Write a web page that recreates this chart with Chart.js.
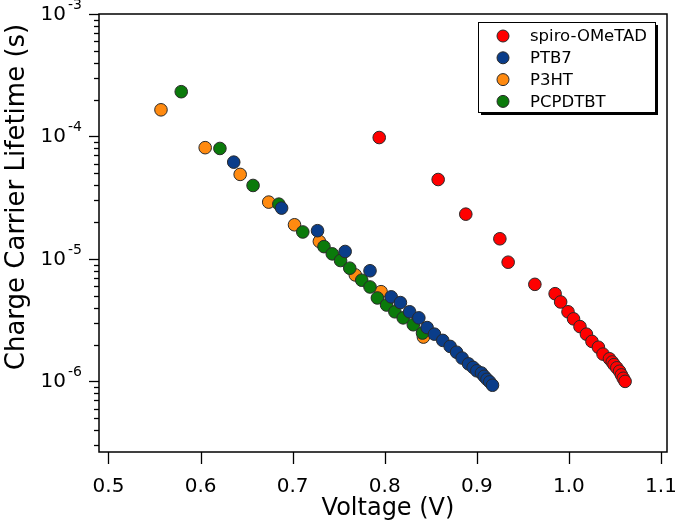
<!DOCTYPE html>
<html>
<head>
<meta charset="utf-8">
<script src="https://cdn.jsdelivr.net/npm/chart.js@4.4.0/dist/chart.umd.min.js"></script>
<style>
  body { margin: 0; background: #fff; }
  canvas { display: block; }
</style>
</head>
<body>
<canvas id="lifetimeChart" width="675" height="521"></canvas>
<script>
// values
const spiroVoltage = [0.794, 0.858, 0.888, 0.925, 0.934, 0.963, 0.985, 0.991, 0.999, 1.005, 1.012, 1.019,
  1.025, 1.032, 1.037, 1.044, 1.047, 1.049, 1.052, 1.055, 1.057, 1.059, 1.061];
const spiroLifetime = [9.8e-5, 4.45e-5, 2.32e-5, 1.46e-5, 9.4e-6, 6.2e-6, 5.2e-6, 4.45e-6, 3.7e-6, 3.24e-6, 2.8e-6, 2.43e-6,
  2.12e-6, 1.9e-6, 1.67e-6, 1.53e-6, 1.44e-6, 1.37e-6, 1.29e-6, 1.21e-6, 1.13e-6, 1.06e-6, 1.0e-6];

const ptb7Voltage = [0.636, 0.688, 0.727, 0.757, 0.784, 0.807, 0.817, 0.827, 0.837, 0.846, 0.854, 0.863,
  0.871, 0.878, 0.884, 0.891, 0.896, 0.900, 0.905, 0.908, 0.911, 0.914, 0.917];
const ptb7Lifetime = [6.17e-5, 2.6e-5, 1.7e-5, 1.15e-5, 8.0e-6, 4.9e-6, 4.4e-6, 3.7e-6, 3.3e-6, 2.75e-6, 2.43e-6, 2.16e-6,
  1.93e-6, 1.73e-6, 1.55e-6, 1.39e-6, 1.3e-6, 1.22e-6, 1.17e-6, 1.1e-6, 1.04e-6, 9.9e-7, 9.3e-7];

const p3htVoltage = [0.557, 0.605, 0.643, 0.674, 0.702, 0.729, 0.768, 0.796, 0.842];
const p3htLifetime = [1.65e-4, 8.1e-5, 4.9e-5, 2.91e-5, 1.9e-5, 1.39e-5, 7.4e-6, 5.4e-6, 2.3e-6];

const pcpdtbtVoltage = [0.579, 0.621, 0.657, 0.685, 0.711, 0.734, 0.743, 0.752, 0.762, 0.775, 0.784, 0.792,
  0.802, 0.811, 0.820, 0.831, 0.841];
const pcpdtbtLifetime = [2.32e-4, 7.98e-5, 3.98e-5, 2.8e-5, 1.66e-5, 1.26e-5, 1.1e-5, 9.7e-6, 8.4e-6, 6.7e-6, 5.9e-6, 4.8e-6,
  4.2e-6, 3.7e-6, 3.3e-6, 2.9e-6, 2.48e-6];

const xTicks = [0.5, 0.6, 0.7, 0.8, 0.9, 1.0, 1.1];
const yDecades = [-7, -6, -5, -4, -3];

const FONT = "'DejaVu Sans', Verdana, sans-serif";

function toPoints(xs, ys) {
  return xs.map((v, i) => ({ x: v, y: ys[i] }));
}

function series(label, xs, ys, color, order) {
  return {
    label,
    data: toPoints(xs, ys),
    order,
    pointRadius: 6.3,
    pointHoverRadius: 6.3,
    pointBackgroundColor: color,
    pointBorderColor: "#2a2a2a",
    pointBorderWidth: 1,
    backgroundColor: color,
    showLine: false
  };
}

// frame, tick marks, log labels, titles and boxed legend
const axisDecor = {
  id: "axisDecor",
  afterDraw(chart) {
    const ctx = chart.ctx;
    const area = chart.chartArea;
    const xs = chart.scales.x;
    const ys = chart.scales.y;
    ctx.save();

    ctx.strokeStyle = "#000";
    ctx.lineWidth = 1.5;
    ctx.strokeRect(area.left, area.top, area.right - area.left, area.bottom - area.top);

    // y ticks, major + minor
    ctx.lineWidth = 1.3;
    yDecades.forEach(e => {
      for (let m = 1; m <= 9; m++) {
        const v = m * Math.pow(10, e);
        if (v < ys.min * 0.999 || v > ys.max * 1.001) continue;
        const py = Math.round(ys.getPixelForValue(v)) + 0.5;
        const len = m === 1 ? 10 : 5;
        ctx.beginPath();
        ctx.moveTo(area.left - len, py);
        ctx.lineTo(area.left, py);
        ctx.stroke();
        if (m === 1) {
          ctx.fillStyle = "#000";
          ctx.font = "20px " + FONT;
          ctx.textAlign = "right";
          ctx.textBaseline = "middle";
          ctx.fillText("10", 66, py);
          ctx.font = "14px " + FONT;
          ctx.textAlign = "left";
          ctx.textBaseline = "alphabetic";
          ctx.fillText("-" + Math.abs(e), 68, py - 6);
        }
      }
    });

    // x ticks
    xTicks.forEach(v => {
      const px = Math.round(xs.getPixelForValue(v)) + 0.5;
      ctx.beginPath();
      ctx.moveTo(px, area.bottom);
      ctx.lineTo(px, area.bottom + 12);
      ctx.stroke();
    });

    // axis titles
    ctx.fillStyle = "#000";
    ctx.font = "24px " + FONT;
    ctx.textAlign = "center";
    ctx.textBaseline = "middle";
    ctx.fillText("Voltage (V)", 388, 509);
    ctx.save();
    ctx.translate(17, 197);
    ctx.rotate(-Math.PI / 2);
    ctx.font = "26px " + FONT;
    ctx.fillText("Charge Carrier Lifetime (s)", 0, 0);
    ctx.restore();

    // legend box with drop shadow
    const lx = 478, ly = 22, lw = 177, lh = 90;
    ctx.fillStyle = "#000";
    ctx.fillRect(lx + 3, ly + 3, lw, lh);
    ctx.fillStyle = "#fff";
    ctx.fillRect(lx, ly, lw, lh);
    ctx.lineWidth = 1;
    ctx.strokeStyle = "#000";
    ctx.strokeRect(lx + 0.5, ly + 0.5, lw, lh);
    ctx.font = "16.5px " + FONT;
    ctx.textAlign = "left";
    ctx.textBaseline = "middle";
    chart.data.datasets.forEach((ds, i) => {
      const ry = ly + 14 + i * 21.8;
      ctx.beginPath();
      ctx.arc(lx + 25, ry, 6, 0, Math.PI * 2);
      ctx.fillStyle = ds.pointBackgroundColor;
      ctx.fill();
      ctx.strokeStyle = "#2a2a2a";
      ctx.lineWidth = 1;
      ctx.stroke();
      ctx.fillStyle = "#000";
      ctx.fillText(ds.label, lx + 52, ry + 1);
    });

    ctx.restore();
  }
};

const ctx = document.getElementById("lifetimeChart");

new Chart(ctx, {
  type: "scatter",
  data: {
    datasets: [
      series("spiro-OMeTAD", spiroVoltage, spiroLifetime, "#ff0000", 0),
      series("PTB7", ptb7Voltage, ptb7Lifetime, "#0a3d8a", 1),
      series("P3HT", p3htVoltage, p3htLifetime, "#ff8a10", 3),
      series("PCPDTBT", pcpdtbtVoltage, pcpdtbtLifetime, "#0b7a0b", 2)
    ]
  },
  options: {
    responsive: false,
    animation: false,
    devicePixelRatio: 1,
    layout: {
      padding: { left: 0, right: 8, top: 14, bottom: 0 }
    },
    plugins: {
      legend: { display: false },
      tooltip: { enabled: false }
    },
    scales: {
      x: {
        type: "linear",
        min: 0.4897,
        max: 1.1065,
        grid: { display: false, drawTicks: false },
        border: { display: false },
        afterBuildTicks: scale => {
          scale.ticks = xTicks.map(v => ({ value: v }));
        },
        afterFit: scale => {
          scale.height = 69;
          // let the last label hang over the edge instead of shrinking the plot
          scale.paddingLeft = 0;
          scale.paddingRight = 0;
        },
        ticks: {
          padding: 23,
          color: "#000",
          font: { family: FONT, size: 20 },
          maxRotation: 0,
          autoSkip: false,
          callback: value => value.toFixed(1)
        }
      },
      y: {
        type: "logarithmic",
        min: 2.65e-7,
        max: 1e-3,
        grid: { display: false, drawTicks: false },
        border: { display: false },
        ticks: { display: false },
        afterFit: scale => {
          scale.width = 99;
          scale.paddingTop = 0;
          scale.paddingBottom = 0;
        }
      }
    }
  },
  plugins: [axisDecor]
});
</script>
</body>
</html>
